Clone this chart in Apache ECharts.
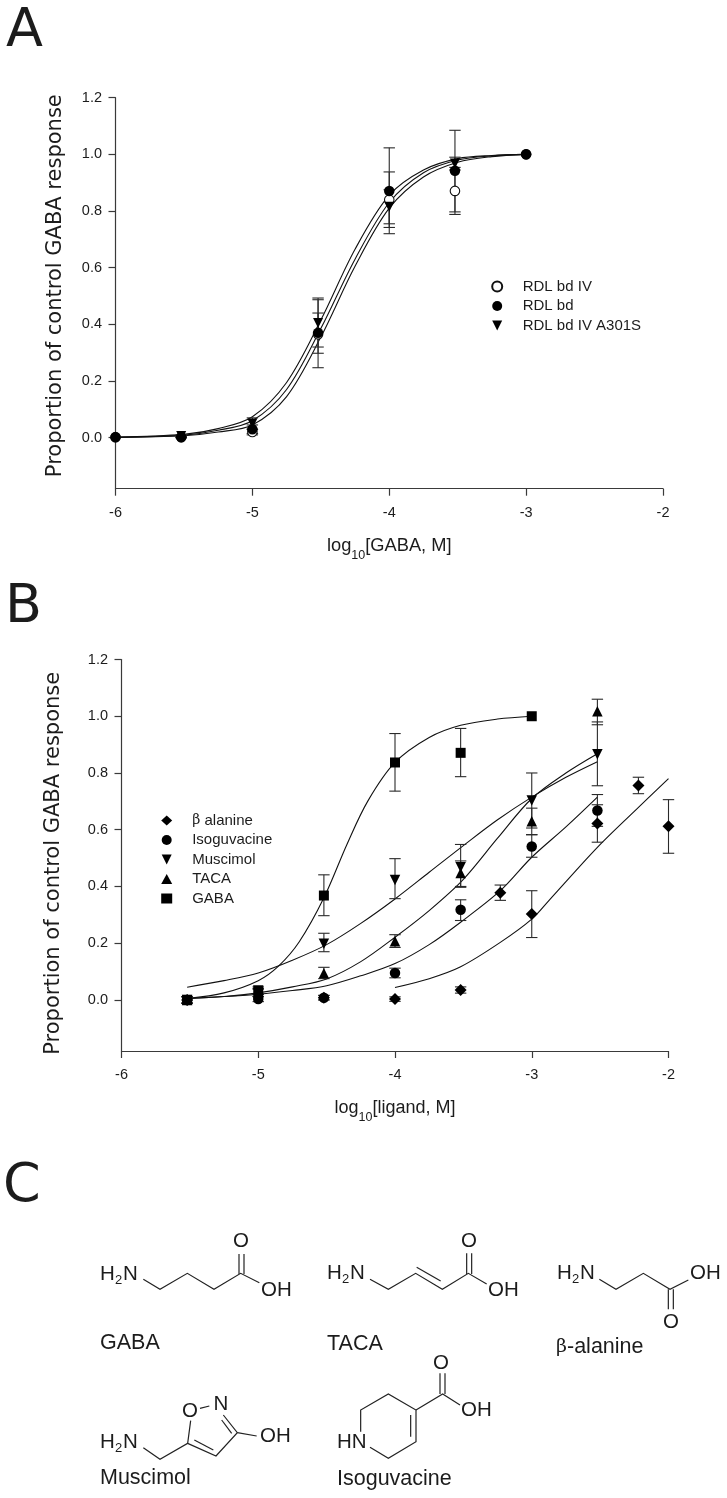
<!DOCTYPE html>
<html><head><meta charset="utf-8">
<style>html,body{margin:0;padding:0;background:#fff}#c{width:727px;height:1498px}</style>
<script src="https://cdn.jsdelivr.net/npm/echarts@6/dist/echarts.min.js"></script>
</head><body><div id="c"></div>
<script>
// ---------- tick labels ----------
const yTicks = [1.2, 1.0, 0.8, 0.6, 0.4, 0.2, 0.0];
const xTicks = [-6, -5, -4, -3, -2];

// ---------- panel A data ----------
const xA = [-6, -5.52, -5, -4.52, -4, -3.52, -3];
const openY  = [0.002, 0.002, 0.02, 0.365, 0.84, 0.871, 1.0];
const openLo = [0.002, 0.000, 0.01, 0.298, 0.742, 0.788, 1.0];
const openHi = [0.002, 0.006, 0.03, 0.44, 0.938, 0.954, 1.0];
const fillY  = [0.002, 0.002, 0.03, 0.37, 0.871, 0.942, 1.0];
const fillLo = [0.002, 0.000, 0.015, 0.247, 0.72, 0.797, 1.0];
const fillHi = [0.002, 0.006, 0.045, 0.493, 1.023, 1.085, 1.0];
const xTri = [-5.52, -5, -4.52, -4, -3.52];
const triY   = [0.006, 0.05, 0.405, 0.815, 0.968];
const triLo  = [0.002, 0.03, 0.32, 0.755, 0.945];
const triHi  = [0.010, 0.07, 0.487, 0.875, 0.99];
const xCurveA = [-6, -5.5, -5.25, -5, -4.75, -4.5, -4.25, -4, -3.75, -3.5, -3.25, -3];
const curveA1 = [0.002, 0.012, 0.032, 0.074, 0.195, 0.415, 0.665, 0.856, 0.945, 0.985, 0.996, 1.0];
const curveA2 = [0.001, 0.009, 0.026, 0.06, 0.17, 0.385, 0.63, 0.83, 0.935, 0.98, 0.995, 1.0];
const curveA3 = [0.001, 0.007, 0.02, 0.045, 0.145, 0.355, 0.605, 0.81, 0.92, 0.972, 0.992, 1.0];

// ---------- panel B data ----------
const xBeta = [-5.52, -4.52, -4, -3.52, -3.23, -3, -2.52, -2.22, -2];
const betaY  = [0.0, 0.008, 0.003, 0.035, 0.378, 0.303, 0.622, 0.756, 0.612];
const betaLo = [-0.01, 0.0, -0.005, 0.024, 0.351, 0.22, 0.556, 0.727, 0.517];
const betaHi = [0.01, 0.016, 0.011, 0.046, 0.405, 0.385, 0.688, 0.785, 0.706];
const xIso = [-5.52, -5, -4.52, -4, -3.52, -3, -2.52];
const isoY  = [0.0, 0.003, 0.008, 0.095, 0.318, 0.541, 0.668];
const isoLo = [-0.012, -0.006, 0.0, 0.078, 0.28, 0.503, 0.612];
const isoHi = [0.012, 0.012, 0.016, 0.112, 0.353, 0.582, 0.724];
const xMus = [-5.52, -5, -4.52, -4, -3.52, -3, -2.52];
const musY  = [0.0, 0.033, 0.198, 0.423, 0.468, 0.703, 0.866];
const musLo = [-0.012, 0.02, 0.17, 0.357, 0.40, 0.606, 0.755];
const musHi = [0.012, 0.046, 0.235, 0.498, 0.548, 0.80, 0.98];
const xTaca = [-5.52, -5, -4.52, -4, -3.52, -3, -2.52];
const tacaY  = [0.0, 0.025, 0.094, 0.207, 0.447, 0.63, 1.018];
const tacaLo = [-0.012, 0.012, 0.075, 0.185, 0.397, 0.583, 0.97];
const tacaHi = [0.012, 0.038, 0.115, 0.23, 0.49, 0.676, 1.06];
const xGaba = [-5.52, -5, -4.52, -4, -3.52, -3];
const gabaY  = [0.0, 0.03, 0.368, 0.837, 0.871, 1.0];
const gabaLo = [-0.012, 0.02, 0.297, 0.736, 0.787, 1.0];
const gabaHi = [0.012, 0.04, 0.441, 0.939, 0.957, 1.0];

const xCurveGaba = [-5.52, -5.25, -5, -4.85, -4.7, -4.52, -4.35, -4.2, -4, -3.75, -3.52, -3.25, -3];
const curveGaba  = [0.005, 0.025, 0.068, 0.12, 0.205, 0.36, 0.55, 0.70, 0.837, 0.925, 0.968, 0.99, 1.0];
const xCurveMus = [-5.52, -5.25, -5, -4.75, -4.5, -4.25, -4, -3.75, -3.5, -3.25, -3, -2.75, -2.52];
const curveMus  = [0.045, 0.068, 0.095, 0.14, 0.195, 0.27, 0.356, 0.45, 0.544, 0.635, 0.715, 0.785, 0.84];
const xCurveTaca = [-5.52, -5.25, -5, -4.75, -4.5, -4.25, -4, -3.75, -3.5, -3.25, -3, -2.75, -2.52];
const curveTaca  = [0.005, 0.012, 0.025, 0.046, 0.074, 0.135, 0.221, 0.315, 0.425, 0.57, 0.71, 0.80, 0.868];
const xCurveIso = [-5.52, -5.25, -5, -4.75, -4.5, -4.25, -4, -3.75, -3.52, -3.23, -3, -2.75, -2.52];
const curveIso  = [0.005, 0.012, 0.02, 0.033, 0.05, 0.085, 0.128, 0.195, 0.274, 0.385, 0.503, 0.61, 0.715];
const xCurveBeta = [-4, -3.75, -3.52, -3.23, -3, -2.87, -2.52, -2.25, -2];
const curveBeta  = [0.044, 0.075, 0.117, 0.203, 0.285, 0.353, 0.538, 0.665, 0.78];

// ---------- helpers ----------
const zip = (xs, ys) => xs.map((x, i) => [x, ys[i]]);
const SANS = '"Liberation Sans", Arial, sans-serif';
const DEJA = '"DejaVu Sans", sans-serif';
const INK = '#1c1c1c';
const DOWN = 'path://M0 0L10 0L5 10Z';

function curve(xs, ys, idx) {
  return { type: 'line', xAxisIndex: idx, yAxisIndex: idx, data: zip(xs, ys), smooth: 0.33,
    showSymbol: false, silent: true, z: 2,
    lineStyle: { color: '#111', width: 1.1 } };
}
function errs(xs, lo, hi, idx) {
  return { type: 'custom', xAxisIndex: idx, yAxisIndex: idx, silent: true, z: 3, clip: false,
    encode: { x: 0, y: [1, 2] },
    data: xs.map((x, i) => [x, lo[i], hi[i]]),
    renderItem(params, api) {
      if (api.value(1) === api.value(2)) return null;
      const a = api.coord([api.value(0), api.value(1)]);
      const b = api.coord([api.value(0), api.value(2)]);
      const s = { stroke: '#2a2a2a', lineWidth: 1.1, fill: 'none' };
      const w = 5.7;
      return { type: 'group', children: [
        { type: 'line', shape: { x1: a[0], y1: a[1], x2: b[0], y2: b[1] }, style: s },
        { type: 'line', shape: { x1: a[0] - w, y1: a[1], x2: a[0] + w, y2: a[1] }, style: s },
        { type: 'line', shape: { x1: b[0] - w, y1: b[1], x2: b[0] + w, y2: b[1] }, style: s }
      ] };
    } };
}
function dots(name, xs, ys, idx, symbol, size, open) {
  return { type: 'scatter', name, xAxisIndex: idx, yAxisIndex: idx, data: zip(xs, ys), symbol, symbolSize: size,
    z: 4, silent: true, clip: false,
    itemStyle: open ? { color: '#fff', borderColor: '#111', borderWidth: 1.1, opacity: 1 } : { color: '#000', opacity: 1 } };
}
function xAxis(idx, nameText, size) {
  return { type: 'value', gridIndex: idx, min: -6, max: -2, interval: 1,
    name: nameText, nameLocation: 'middle', nameGap: 48,
    nameTextStyle: { rich: {
      a: { fontFamily: SANS, fontSize: size, color: INK, lineHeight: 22, verticalAlign: 'top' },
      b: { fontFamily: SANS, fontSize: 12.5, color: INK, lineHeight: 22, padding: [12, 0, 0, 0], verticalAlign: 'top' } } },
    axisLine: { onZero: false, lineStyle: { color: '#3a3a3a', width: 1.2 } },
    axisTick: { length: 7, lineStyle: { color: '#3a3a3a', width: 1.2 } },
    axisLabel: { fontFamily: SANS, fontSize: 14.5, color: INK, margin: 16.5 },
    splitLine: { show: false } };
}
function yAxis(idx, pad, gap) {
  return { type: 'value', gridIndex: idx, min: -0.18, max: 1.2,
    name: 'Proportion of control GABA response', nameLocation: 'middle', nameGap: gap, nameRotate: 90,
    nameTextStyle: { fontFamily: DEJA, fontSize: 21, color: INK, padding: pad },
    axisLine: { onZero: false, lineStyle: { color: '#3a3a3a', width: 1.2 } },
    axisTick: { length: 7, customValues: yTicks, lineStyle: { color: '#3a3a3a', width: 1.2 } },
    axisLabel: { fontFamily: SANS, fontSize: 14.5, color: INK, margin: 13.5, customValues: yTicks,
      formatter: v => v.toFixed(1) },
    splitLine: { show: false } };
}
function legend(names, left, top) {
  return { data: names, orient: 'vertical', left, top, padding: 0, itemWidth: 11, itemHeight: 10, itemGap: 2.5,
    selectedMode: false, inactiveColor: '#000',
    textStyle: { fontFamily: SANS, fontSize: 15, color: INK, lineHeight: 17, padding: [0, 0, 0, 15],
      rich: { g: { fontFamily: '"DejaVu Serif", "Liberation Serif", serif', fontSize: 14, color: INK, lineHeight: 17 } } },
    formatter: n => n.replace('β', '{g|β}') };
}

// ---------- non-data drawing: panel letters and chemical structures ----------
const gfx = [];
function txt(text, x, y, size, family, align) {
  gfx.push({ type: 'text', silent: true, style: { x, y, text, fill: INK, textAlign: align || 'left',
    textVerticalAlign: 'middle', font: `${size}px ${family || SANS}` } });
}
function bonds(ox, oy, list) {
  list.forEach(p => gfx.push({ type: 'polyline', silent: true,
    shape: { points: p.map(q => [ox + q[0] / 3, oy + q[1] / 3]) },
    style: { stroke: '#222', lineWidth: 1.2, fill: 'none' } }));
}
function h2n(x, y) {
  txt('H', x, y, 20.5); txt('2', x + 15, y + 6, 13); txt('N', x + 23, y, 20.5);
}
txt('A', 6, 31.5, 54, DEJA); txt('B', 5, 607.5, 54, DEJA); txt('C', 3, 1187, 54, DEJA);

// GABA
h2n(100, 1274);
bonds(0, 1150, [[[430, 388], [480, 418], [562, 370], [642, 418], [722, 370], [778, 398]],
  [[717, 372], [717, 312]], [[732, 372], [732, 312]]]);
txt('O', 241, 1241, 20.5, SANS, 'center'); txt('OH', 261, 1290, 20.5);
txt('GABA', 100, 1343, 21.5);
// Muscimol
h2n(100, 1442);
bonds(0, 1150, [[[430, 893], [480, 928], [563, 880], [572, 812]], [[600, 775], [628, 768]],
  [[670, 795], [712, 848], [648, 918], [563, 880]], [[665, 810], [695, 850]], [[640, 900], [583, 870]], [[712, 848], [770, 858]]]);
txt('O', 190, 1411, 20.5, SANS, 'center'); txt('N', 221, 1404, 20.5, SANS, 'center'); txt('OH', 260, 1436, 20.5);
txt('Muscimol', 100, 1478, 21.5);
// TACA
h2n(327, 1273);
bonds(320, 1210, [[[150, 208], [205, 238], [287, 190], [367, 238], [445, 190], [500, 222]],
  [[290, 172], [362, 213]], [[440, 192], [440, 130]], [[455, 192], [455, 130]]]);
txt('O', 469, 1241, 20.5, SANS, 'center'); txt('OH', 488, 1290, 20.5);
txt('TACA', 327, 1344, 21.5);
// beta-alanine
h2n(557, 1273);
bonds(320, 1210, [[[838, 208], [888, 238], [970, 190], [1050, 238], [1105, 210]],
  [[1045, 238], [1045, 298]], [[1060, 238], [1060, 298]]]);
txt('O', 671, 1322, 20.5, SANS, 'center'); txt('OH', 690, 1273, 20.5);
gfx.push({ type: 'text', silent: true, style: { x: 556, y: 1347, text: '{g|β}-alanine', fill: INK, textVerticalAlign: 'middle',
  font: `21.5px ${SANS}`, rich: { g: { fontFamily: '"DejaVu Serif", serif', fontSize: 19, fill: INK } } } });
// Isoguvacine
bonds(320, 1210, [[[150, 712], [205, 745], [288, 695], [288, 600], [205, 552], [122, 600], [122, 665]],
  [[272, 615], [272, 680]], [[288, 600], [368, 552], [420, 585]], [[360, 552], [360, 490]], [[375, 552], [375, 490]]]);
txt('HN', 337, 1442, 20.5); txt('O', 441, 1363, 20.5, SANS, 'center'); txt('OH', 461, 1410, 20.5);
txt('Isoguvacine', 337, 1479, 21.5);

// ---------- chart ----------
const chart = echarts.init(document.getElementById('c'));
chart.setOption({
  animation: false,
  backgroundColor: '#fff',
  grid: [
    { left: 115.5, top: 97.7, width: 547.5, height: 391 },
    { left: 121.5, top: 659.5, width: 547, height: 391.5 }
  ],
  xAxis: [xAxis(0, '{a|log}{b|10}{a|[GABA, M]}', 18.3), xAxis(1, '{a|log}{b|10}{a|[ligand, M]}', 18)],
  yAxis: [yAxis(0, [0, 0, 0, 15], 49), yAxis(1, [0, 16, 0, 0], 57)],
  legend: [
    legend(['RDL bd IV', 'RDL bd', 'RDL bd IV A301S'], 491.2, 278),
    legend(['β alanine', 'Isoguvacine', 'Muscimol', 'TACA', 'GABA'], 161.2, 812)
  ],
  graphic: { elements: gfx },
  series: [
    curve(xCurveA, curveA1, 0), curve(xCurveA, curveA2, 0), curve(xCurveA, curveA3, 0),
    errs(xA, openLo, openHi, 0), errs(xA, fillLo, fillHi, 0), errs(xTri, triLo, triHi, 0),
    dots('RDL bd IV', xA, openY, 0, 'circle', 9.5, true),
    dots('RDL bd IV A301S', xTri, triY, 0, DOWN, 10),
    dots('RDL bd', xA, fillY, 0, 'circle', 10.5),

    curve(xCurveBeta, curveBeta, 1), curve(xCurveIso, curveIso, 1), curve(xCurveMus, curveMus, 1),
    curve(xCurveTaca, curveTaca, 1), curve(xCurveGaba, curveGaba, 1),
    errs(xBeta, betaLo, betaHi, 1), errs(xIso, isoLo, isoHi, 1), errs(xMus, musLo, musHi, 1),
    errs(xTaca, tacaLo, tacaHi, 1), errs(xGaba, gabaLo, gabaHi, 1),
    dots('β alanine', xBeta, betaY, 1, 'diamond', 12),
    dots('Isoguvacine', xIso, isoY, 1, 'circle', 10.5),
    dots('Muscimol', xMus, musY, 1, DOWN, 10.5),
    dots('TACA', xTaca, tacaY, 1, 'triangle', 10.5),
    dots('GABA', xGaba, gabaY, 1, 'rect', 10)
  ]
});
</script></body></html>
